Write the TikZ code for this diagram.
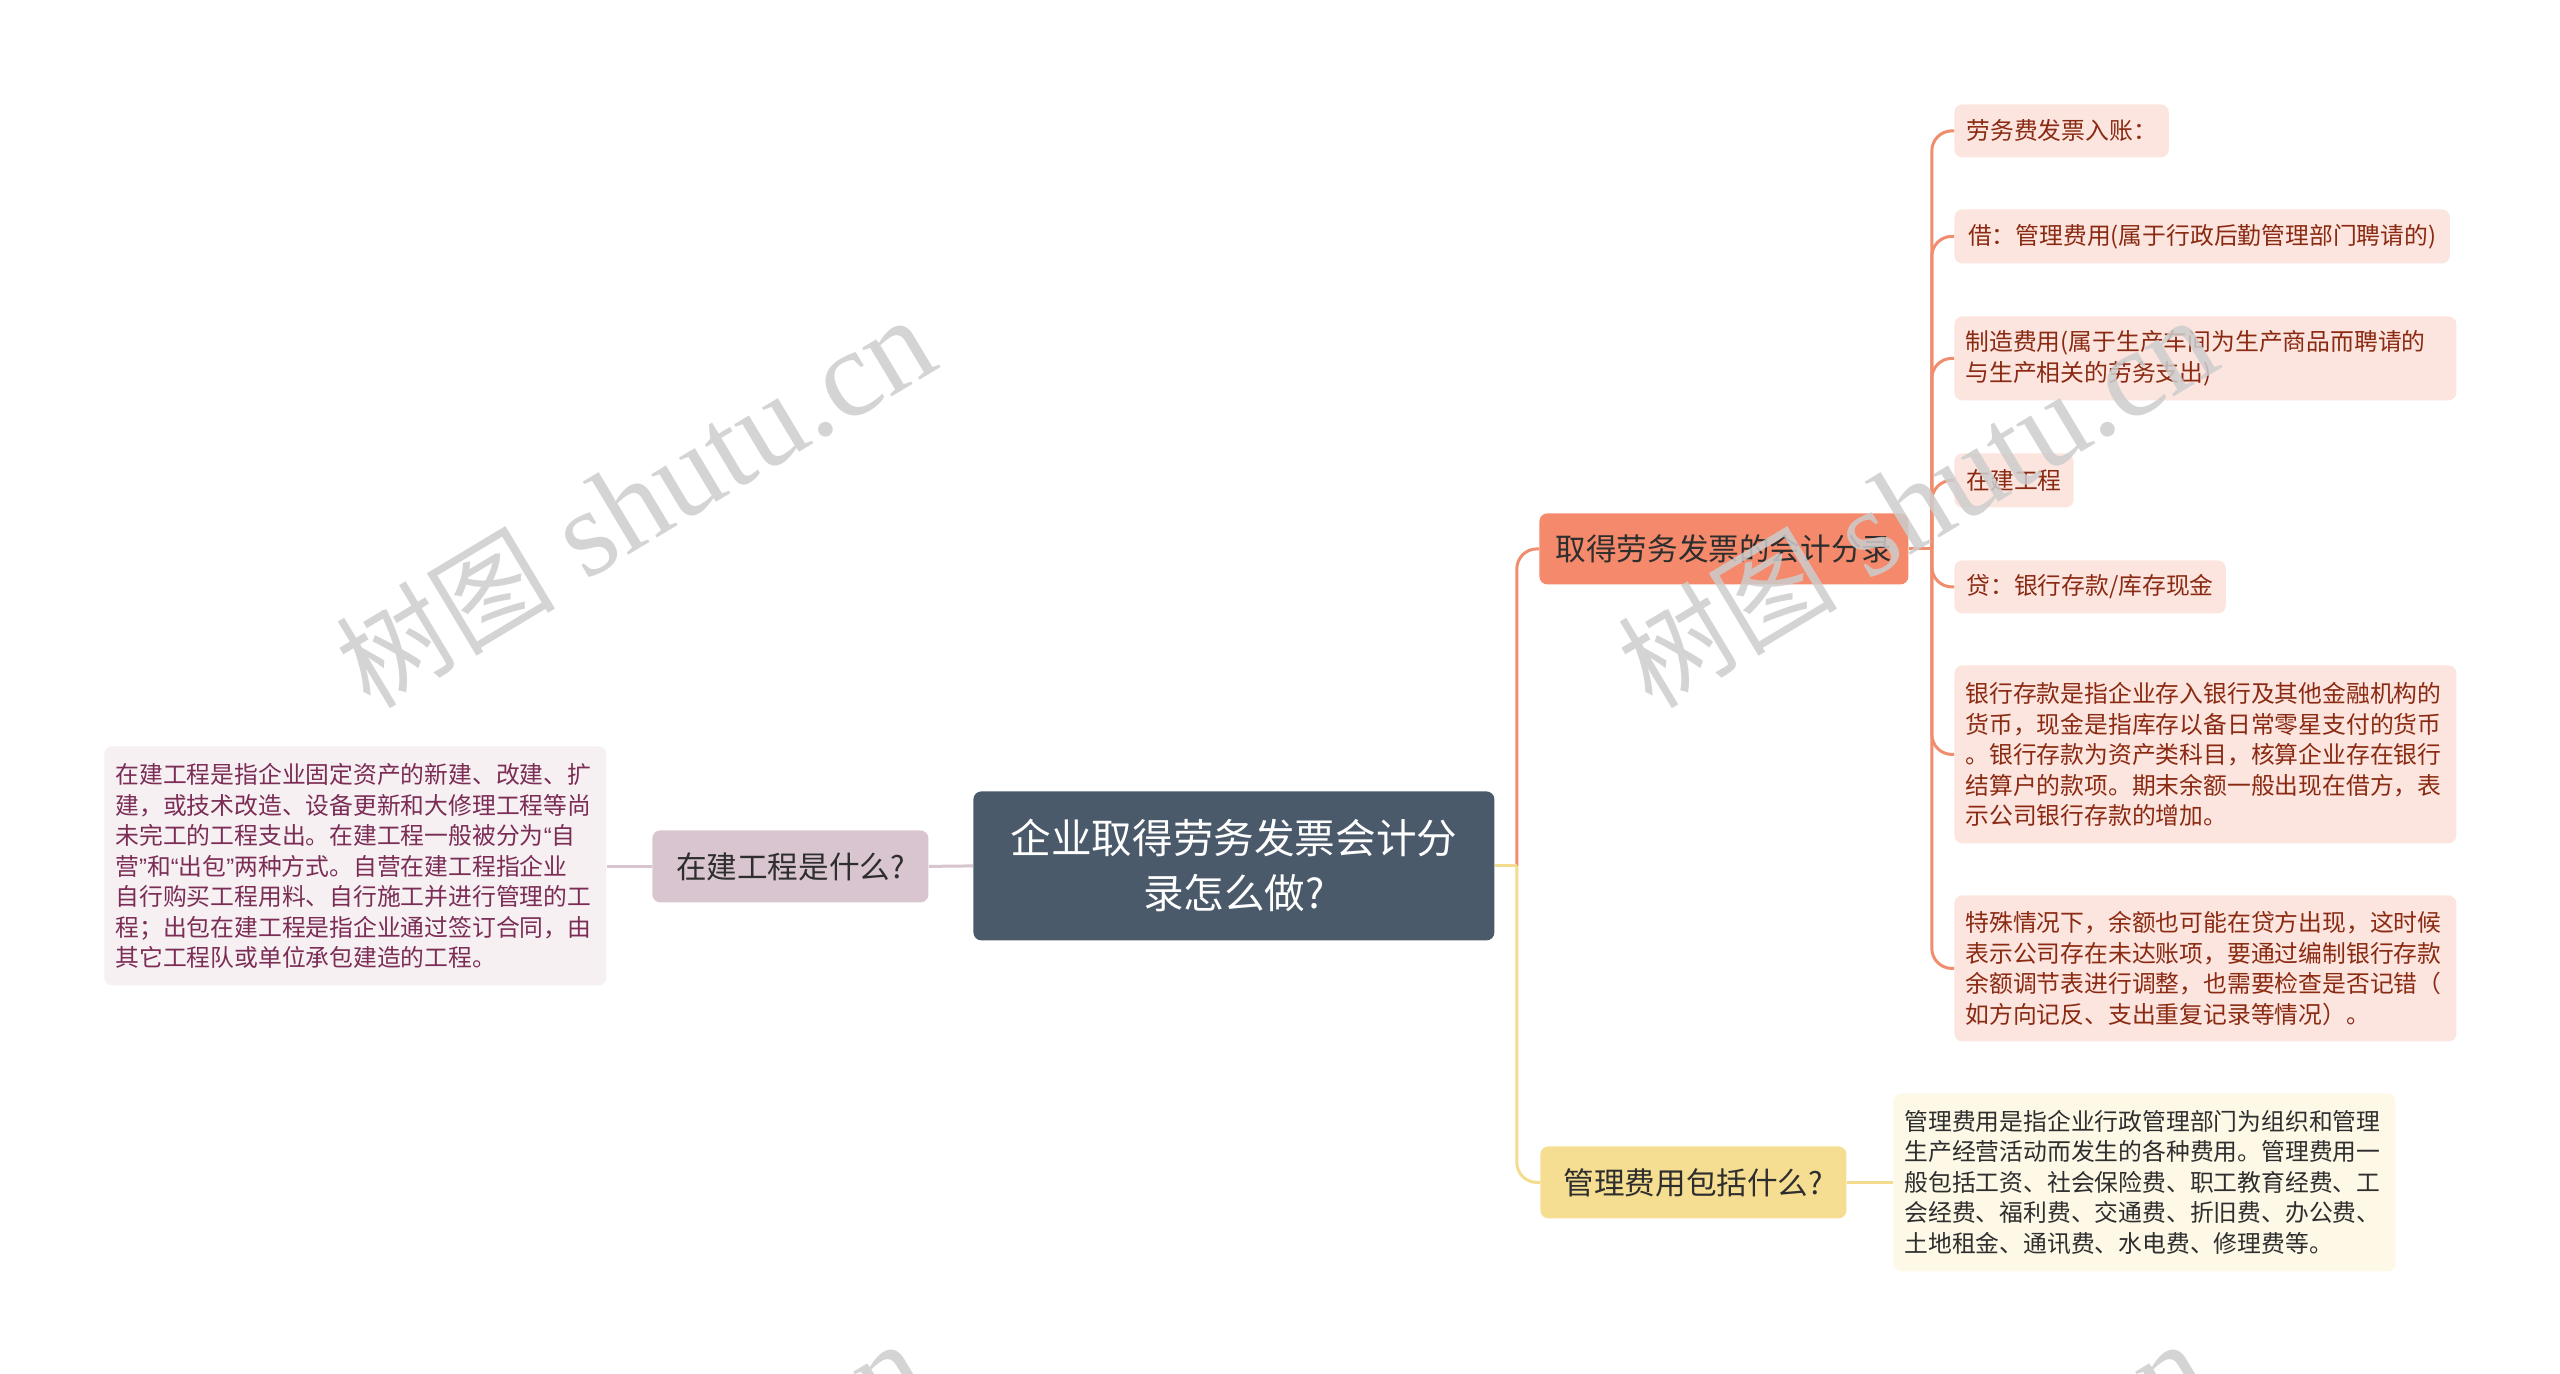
\documentclass[tikz,border=0pt]{standalone}
\usepackage{fontspec}
\setmainfont{Noto Sans CJK SC}
\newfontfamily\latinq{Liberation Sans}
\newfontfamily\wmserif{Liberation Serif}
\newfontfamily\wmcjk{Noto Sans CJK SC}
\definecolor{rootc}{HTML}{4A5A6A}
\definecolor{lonec}{HTML}{D9C5CF}
\definecolor{llfill}{HTML}{F6F0F3}
\definecolor{lltext}{HTML}{7B2D55}
\definecolor{bonec}{HTML}{F5896B}
\definecolor{btwoc}{HTML}{F5DE91}
\definecolor{lrfill}{HTML}{FEF8E7}
\definecolor{chfill}{HTML}{FCE5DF}
\definecolor{chtext}{HTML}{8A2A12}
\definecolor{oline}{HTML}{F08D6E}
\definecolor{yline}{HTML}{F4DC8E}
\definecolor{mline}{HTML}{D8C4CE}
\definecolor{wmc}{HTML}{CDCDCD}
\definecolor{darktext}{HTML}{2E2E2E}
\newcommand\fsleaf{\fontsize{11.9pt}{15.25pt}\selectfont}
\newcommand\fsmain{\fontsize{15.3pt}{18pt}\selectfont}
\newcommand\fsroot{\fontsize{20.3pt}{27.5pt}\selectfont}
\newcommand\wmtext{{\wmcjk\fontsize{55pt}{55pt}\selectfont 树图}{\wmserif\fontsize{62pt}{62pt}\selectfont{} shutu.cn}}
\tikzset{
  boxbase/.style={rounded corners=4pt, inner xsep=6pt, inner ysep=0pt, anchor=north west, draw=none},
  rootbox/.style={boxbase, fill=rootc, text=white, font=\fsroot, align=center},
  mainbox/.style={boxbase, text=darktext, font=\fsmain, align=center},
  childbox/.style={boxbase, fill=chfill, text=chtext, font=\fsleaf, align=left},
  widebox/.style={inner xsep=5.5pt, text width=240pt},
  conn/.style={line width=1.5pt},
  wmark/.style={rotate=31, anchor=base west, text=wmc, opacity=0.85}
}
\begin{document}
\begin{tikzpicture}[x=0.5pt,y=-0.5pt]
\useasboundingbox (0,0) rectangle (2560,1374);
\fill[white] (0,0) rectangle (2560,1374);

% root
\node[rootbox, minimum width=260.5pt, minimum height=74.5pt] (root) at (973,791)
  {企业取得劳务发票会计分\\录怎么做?};

% left side
\node[mainbox, fill=lonec, minimum width=138pt, minimum height=36pt] (lone) at (652,830)
  {在建工程是什么?};
\node[childbox, widebox, fill=llfill, text=lltext, minimum height=119.5pt] (lleaf) at (104,746)
  {在建工程是指企业固定资产的新建、改建、扩\\
   建，或技术改造、设备更新和大修理工程等尚\\
   未完工的工程支出。在建工程一般被分为{\latinq“}自\\
   营{\latinq”}和{\latinq“}出包{\latinq”}两种方式。自营在建工程指企业\\
   自行购买工程用料、自行施工并进行管理的工\\
   程；出包在建工程是指企业通过签订合同，由\\
   其它工程队或单位承包建造的工程。};

% right branches
\node[mainbox, fill=bonec, minimum width=184.5pt, minimum height=35.5pt] (bone) at (1539,513)
  {取得劳务发票的会计分录};
\node[mainbox, fill=btwoc, minimum width=153pt, minimum height=36pt] (btwo) at (1540,1146)
  {管理费用包括什么?};
\node[childbox, widebox, fill=lrfill, text=darktext, minimum height=89pt] (lrleaf) at (1893,1093)
  {管理费用是指企业行政管理部门为组织和管理\\
   生产经营活动而发生的各种费用。管理费用一\\
   般包括工资、社会保险费、职工教育经费、工\\
   会经费、福利费、交通费、折旧费、办公费、\\
   土地租金、通讯费、水电费、修理费等。};

% children of branch 1
\node[childbox, minimum height=26.5pt] (cone) at (1954,104) {劳务费发票入账：};
\node[childbox, minimum height=27pt, inner xsep=6.8pt] (ctwo) at (1954,209) {借：管理费用(属于行政后勤管理部门聘请的)};
\node[childbox, widebox, minimum height=42pt] (cthree) at (1954,316)
  {制造费用(属于生产车间为生产商品而聘请的\\与生产相关的劳务支出)};
\node[childbox, minimum height=27pt] (cfour) at (1954,453) {在建工程};
\node[childbox, minimum height=26.5pt] (cfive) at (1954,560) {贷：银行存款/库存现金};
\node[childbox, widebox, minimum height=89pt] (csix) at (1954,665)
  {银行存款是指企业存入银行及其他金融机构的\\
   货币，现金是指库存以备日常零星支付的货币\\
   。银行存款为资产类科目，核算企业存在银行\\
   结算户的款项。期末余额一般出现在借方，表\\
   示公司银行存款的增加。};
\node[childbox, widebox, minimum height=73pt] (cseven) at (1954,895)
  {特殊情况下，余额也可能在贷方出现，这时候\\
   表示公司存在未达账项，要通过编制银行存款\\
   余额调节表进行调整，也需要检查是否记错（\\
   如方向记反、支出重复记录等情况）。};

% junctions
\coordinate (jr) at ([xshift=11pt]root.east);
\coordinate (jone) at ([xshift=11.5pt]bone.east);

% connectors left
\draw[conn, mline] (root.west) -- (lone.east);
\draw[conn, mline] (lone.west) -- (lleaf.east |- lone.west);

% connectors right (root)
\draw[conn, oline, rounded corners=10pt] (jr) |- (bone.west);
\draw[conn, yline] (root.east) -- (jr);
\draw[conn, yline, rounded corners=10pt] (jr) |- (btwo.west);
\draw[conn, yline] (btwo.east) -- (lrleaf.west |- btwo.east);

% connectors branch 1
\draw[conn, oline] (bone.east) -- (jone);
\foreach \c in {cone,ctwo,cthree,cfour,cfive,csix,cseven}
  \draw[conn, oline, rounded corners=10pt] (jone) |- (\c.west);

% watermarks
\node[wmark] (wmone) at (364,714) {\wmtext};
\node[wmark] (wmtwo) at (1646,714) {\wmtext};
\node[wmark] (wmthree) at (355,1738) {\wmtext};
\node[wmark] (wmfour) at (1637,1738) {\wmtext};
\end{tikzpicture}
\end{document}
